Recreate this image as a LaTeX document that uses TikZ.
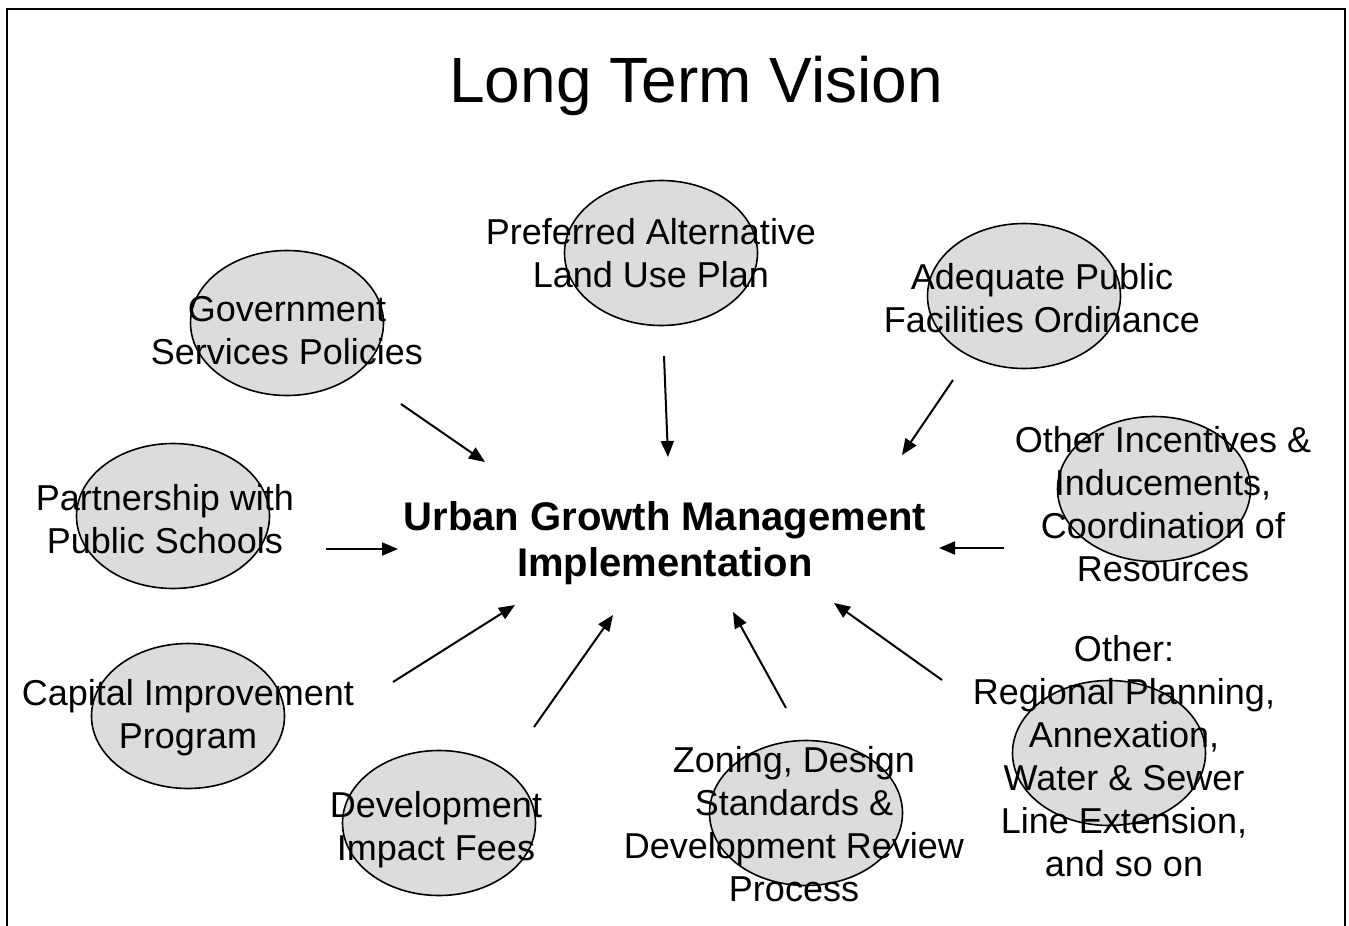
\documentclass[tikz,border=0pt]{standalone}
\usepackage{fontspec}
\setmainfont{Liberation Sans}
\usetikzlibrary{shapes.geometric,arrows.meta}
\definecolor{ellgray}{RGB}{220,220,220}
\newcommand\lblfont{\fontsize{36}{43}\selectfont}
\newcommand\boldfont{\fontsize{40}{46}\selectfont\bfseries}
\newcommand\titlefont{\fontsize{64}{76}\selectfont}
\begin{document}
\begin{tikzpicture}[x=1pt,y=-1pt,
  oval/.style={ellipse,draw=black,line width=1.6pt,fill=ellgray,minimum width=193pt,minimum height=145pt,inner sep=0pt},
  lbl/.style={font=\lblfont,align=center,inner sep=0pt,anchor=north},
  arr/.style={line width=2pt,-{Triangle[length=16pt,width=13pt]}}]
\useasboundingbox (0,0) rectangle (1349,926);
\fill[white] (0,0) rectangle (1349,926);
\draw[line width=2.5pt] (7,940) -- (7,9) -- (1345,9) -- (1345,940);

% title
\node[font=\titlefont,inner sep=0pt,anchor=base] (title) at (696,102) {Long Term Vision};

% ellipses
\node[oval] (epref) at (661,253) {};
\node[oval] (egov) at (287,323) {};
\node[oval] (eadeq) at (1024,296) {};
\node[oval] (einc) at (1154,489) {};
\node[oval] (epart) at (173,516) {};
\node[oval] (ecap) at (188,716) {};
\node[oval] (edev) at (439,823) {};
\node[oval] (ezon) at (806,813) {};
\node[oval] (eoth) at (1109,753) {};

% labels
\node[lbl] (tpref) at (651,213.9) {\strut Preferred Alternative\\Land Use Plan};
\node[lbl] (tgov) at (287,290.9) {\strut Government\\Services Policies};
\node[lbl] (tadeq) at (1042,258.9) {\strut Adequate Public\\Facilities Ordinance};
\node[lbl] (tinc) at (1163,421.9) {\strut Other Incentives \&\\Inducements,\\Coordination of\\Resources};
\node[lbl] (tpart) at (165,479.9) {\strut Partnership with\\Public Schools};
\node[lbl] (tcap) at (188,674.9) {\strut Capital Improvement\\Program};
\node[lbl] (tdev) at (436,786.9) {\strut Development\\Impact Fees};
\node[lbl] (tzon) at (794,741.9) {\strut Zoning, Design\\Standards \&\\Development Review\\Process};
\node[lbl] (toth) at (1124,630.9) {\strut Other:\\Regional Planning,\\Annexation,\\Water \& Sewer\\Line Extension,\\and so on};

% center
\node[font=\boldfont,align=center,inner sep=0pt,anchor=north] (center) at (665,497.8) {\strut Urban Growth Management\\Implementation};

% arrow endpoints
\coordinate (sgov) at (401,404);  \coordinate (egovt) at (485,462);
\coordinate (spref) at (664,356); \coordinate (eprefa) at (668,457);
\coordinate (sadeq) at (953,380); \coordinate (eadeqa) at (902,455);
\coordinate (sinc) at (1004,548); \coordinate (einca) at (939,548);
\coordinate (spart) at (326,549); \coordinate (eparta) at (398,549);
\coordinate (scap) at (393,682);  \coordinate (ecapa) at (515,605);
\coordinate (sdev) at (534,727);  \coordinate (edeva) at (613,615);
\coordinate (szon) at (786,708);  \coordinate (ezona) at (733,612);
\coordinate (soth) at (942,680);  \coordinate (eotha) at (834,603);

\draw[arr] (sgov) -- (egovt);
\draw[arr] (spref) -- (eprefa);
\draw[arr] (sadeq) -- (eadeqa);
\draw[arr] (sinc) -- (einca);
\draw[arr] (spart) -- (eparta);
\draw[arr] (scap) -- (ecapa);
\draw[arr] (sdev) -- (edeva);
\draw[arr] (szon) -- (ezona);
\draw[arr] (soth) -- (eotha);
\end{tikzpicture}
\end{document}
